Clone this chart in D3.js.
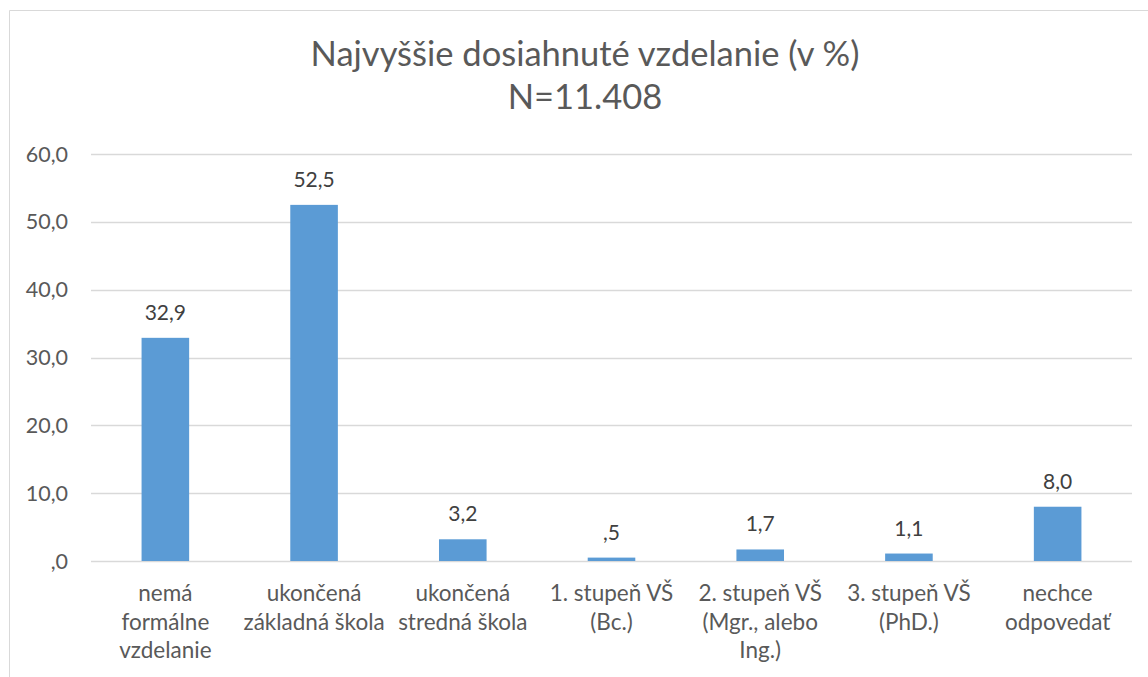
<!DOCTYPE html>
<html>
<head>
<meta charset="utf-8">
<script src="https://cdn.jsdelivr.net/npm/d3@7"></script>
<style>
  body { margin: 0; background: #fff; }
  text { font-family: Lato, "Open Sans", sans-serif; fill: #595959; }
</style>
</head>
<body>
<svg id="chart"></svg>
<script>
const width = 1148;
const height = 677;

const categories = [
    ["nemá", "formálne", "vzdelanie"],
    ["ukončená", "základná škola"],
    ["ukončená", "stredná škola"],
    ["1. stupeň VŠ", "(Bc.)"],
    ["2. stupeň VŠ", "(Mgr., alebo", "Ing.)"],
    ["3. stupeň VŠ", "(PhD.)"],
    ["nechce", "odpovedať"]
];
const values = [32.9, 52.5, 3.2, 0.5, 1.7, 1.1, 8.0];
const yTicks = [0, 10, 20, 30, 40, 50, 60];
const titleLines = ["Najvyššie dosiahnuté vzdelanie (v %)", "N=11.408"];

const margin = { top: 154, right: 16, bottom: 116, left: 91 };

const svg = d3.select("#chart")
    .attr("width", width)
    .attr("height", height);

// chart frame
svg.append("path")
    .attr("d", `M9.5,${height} V10.5 H${width}`)
    .attr("fill", "none")
    .attr("stroke", "#d9d9d9")
    .attr("stroke-width", 1);

const x = d3.scaleBand()
    .domain(d3.range(categories.length))
    .range([margin.left, width - margin.right])
    .paddingInner(0.68)
    .paddingOuter(0.34);

const y = d3.scaleLinear()
    .domain([0, 60])
    .range([height - margin.bottom, margin.top]);

const fmt = v => {
    const s = d3.format(".1f")(v).replace(".", ",");
    return s.startsWith("0,") ? s.slice(1) : s;
};

// gridlines
svg.append("g")
    .selectAll("line")
    .data(yTicks)
    .join("line")
    .attr("x1", margin.left)
    .attr("x2", width - margin.right)
    .attr("y1", d => Math.round(y(d)) + 0.5)
    .attr("y2", d => Math.round(y(d)) + 0.5)
    .attr("stroke", "#d9d9d9")
    .attr("stroke-width", 1.5);

// y axis labels
svg.append("g")
    .selectAll("text")
    .data(yTicks)
    .join("text")
    .attr("x", 68)
    .attr("y", d => y(d))
    .attr("dy", "0.35em")
    .attr("text-anchor", "end")
    .attr("font-size", 21.5)
    .text(fmt);

// bars
svg.append("g")
    .selectAll("rect")
    .data(values)
    .join("rect")
    .attr("x", (d, i) => x(i))
    .attr("width", x.bandwidth())
    .attr("y", d => y(d))
    .attr("height", d => y(0) - y(d))
    .attr("fill", "#5b9bd5");

// value labels
svg.append("g")
    .selectAll("text")
    .data(values)
    .join("text")
    .attr("x", (d, i) => x(i) + x.bandwidth() / 2)
    .attr("y", d => y(d) - 18)
    .attr("text-anchor", "middle")
    .attr("font-size", 21)
    .style("fill", "#404040")
    .text(fmt);

// category labels
const cat = svg.append("g")
    .selectAll("text")
    .data(categories)
    .join("text")
    .attr("x", (d, i) => x(i) + x.bandwidth() / 2)
    .attr("y", 601)
    .attr("text-anchor", "middle")
    .attr("font-size", 22.5);

cat.selectAll("tspan")
    .data(d => d)
    .join("tspan")
    .attr("x", function () { return this.parentNode.getAttribute("x"); })
    .attr("dy", (d, i) => i === 0 ? 0 : 28.5)
    .text(d => d);

// title
svg.append("g")
    .selectAll("text")
    .data(titleLines)
    .join("text")
    .attr("x", 585)
    .attr("y", (d, i) => 66 + i * 43)
    .attr("text-anchor", "middle")
    .attr("font-size", 34.5)
    .text(d => d);
</script>
</body>
</html>
